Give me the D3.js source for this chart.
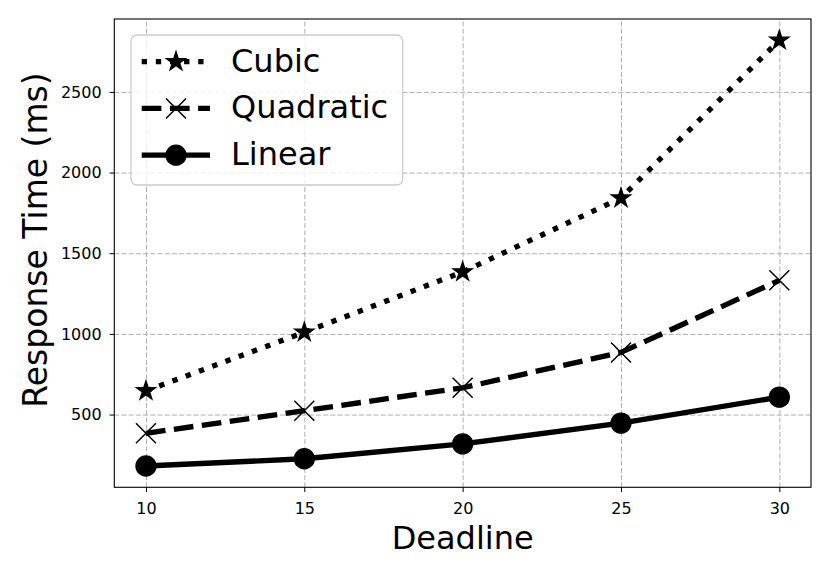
<!DOCTYPE html>
<html>
<head>
<meta charset="utf-8">
<script src="https://cdn.jsdelivr.net/npm/d3@7"></script>
<style>
  body { margin: 0; background: #fff; }
  svg { display: block; font-family: "DejaVu Sans", sans-serif; }
  .axis path, .axis line { stroke: #000; }
  .axis text { fill: #000; }
  .grid line { stroke: #b0b0b0; stroke-width: 1; stroke-dasharray: 5 2.2; }
  .grid path { display: none; }
</style>
</head>
<body>
<svg id="chart" width="830" height="575"></svg>
<script>
// Data
const deadlines = [10, 15, 20, 25, 30];
const cubicTimes = [647, 1010, 1384, 1842, 2820];
const quadraticTimes = [384, 524, 666, 885, 1332];
const linearTimes = [181, 226, 318, 447, 608];
const seriesNames = ["Cubic", "Quadratic", "Linear"];
const xTicks = [10, 15, 20, 25, 30];
const yTicks = [500, 1000, 1500, 2000, 2500];

const series = [
  { name: seriesNames[0], values: cubicTimes, dash: "5.33 8.8", marker: "star" },
  { name: seriesNames[1], values: quadraticTimes, dash: "19.7 8.5", marker: "x" },
  { name: seriesNames[2], values: linearTimes, dash: null, marker: "circle" },
];

const layout = { left: 114.3, right: 811, top: 19, bottom: 487.3 };
const LINE_WIDTH = 5.33;
const MARKER_SIZE = 20;
const FONT = "DejaVu Sans";

const svg = d3.select("#chart");

// matplotlib style 5% margins on both axes
function padded(extent) {
  const r = extent[1] - extent[0];
  return [extent[0] - 0.05 * r, extent[1] + 0.05 * r];
}

const x = d3.scaleLinear()
  .domain(padded(d3.extent(deadlines)))
  .range([layout.left, layout.right]);

const allValues = series.flatMap((s) => s.values);
const y = d3.scaleLinear()
  .domain(padded(d3.extent(allValues)))
  .range([layout.bottom, layout.top]);

const innerW = layout.right - layout.left;
const innerH = layout.bottom - layout.top;

// Grid
svg.append("g")
  .attr("class", "grid")
  .attr("transform", `translate(0,${layout.bottom})`)
  .call(d3.axisBottom(x).tickValues(xTicks).tickSize(-innerH).tickFormat(""));
svg.append("g")
  .attr("class", "grid")
  .attr("transform", `translate(${layout.left},0)`)
  .call(d3.axisLeft(y).tickValues(yTicks).tickSize(-innerW).tickFormat(""));

// Star marker, same shape as matplotlib's "*"
function starPath(r) {
  const pts = d3.range(10).map((i) => {
    const rad = i % 2 === 0 ? r : r * 0.381966;
    const a = (i * Math.PI) / 5;
    return [rad * Math.sin(a), -rad * Math.cos(a)];
  });
  return "M" + pts.join("L") + "Z";
}

function drawMarker(g, type) {
  const r = MARKER_SIZE / 2;
  if (type === "star") {
    g.append("path").attr("d", starPath(r))
      .attr("fill", "#000").attr("stroke", "#000").attr("stroke-width", 1.33);
  } else if (type === "circle") {
    g.append("circle").attr("r", r)
      .attr("fill", "#000").attr("stroke", "#000").attr("stroke-width", 1.33);
  } else {
    g.append("path").attr("d", `M${-r},${-r}L${r},${r}M${-r},${r}L${r},${-r}`)
      .attr("fill", "none").attr("stroke", "#000").attr("stroke-width", 1.5);
  }
}

const line = d3.line()
  .x((d) => x(d[0]))
  .y((d) => y(d[1]));

series.forEach((s) => {
  const pts = deadlines.map((d, i) => [d, s.values[i]]);
  svg.append("path")
    .attr("d", line(pts))
    .attr("fill", "none")
    .attr("stroke", "#000")
    .attr("stroke-width", LINE_WIDTH)
    .attr("stroke-dasharray", s.dash)
    .attr("stroke-linejoin", "round");
  pts.forEach((p) => {
    const g = svg.append("g").attr("transform", `translate(${x(p[0])},${y(p[1])})`);
    drawMarker(g, s.marker);
  });
});

// Frame
svg.append("rect")
  .attr("x", layout.left).attr("y", layout.top)
  .attr("width", innerW).attr("height", innerH)
  .attr("fill", "none").attr("stroke", "#000").attr("stroke-width", 1.1);

// Axes
const gx = svg.append("g")
  .attr("class", "axis")
  .attr("transform", `translate(0,${layout.bottom})`)
  .call(d3.axisBottom(x).tickValues(xTicks).tickSize(4.7).tickSizeOuter(0))
  .attr("font-family", FONT)
  .attr("font-size", 16);
gx.select(".domain").remove();
gx.selectAll("text").attr("y", 26.7).attr("dy", null);

const gy = svg.append("g")
  .attr("class", "axis")
  .attr("transform", `translate(${layout.left},0)`)
  .call(d3.axisLeft(y).tickValues(yTicks).tickSize(4.7).tickPadding(8)
    .tickSizeOuter(0).tickFormat(d3.format("d")))
  .attr("font-family", FONT)
  .attr("font-size", 16);
gy.select(".domain").remove();

// Axis titles
svg.append("text")
  .attr("x", (layout.left + layout.right) / 2)
  .attr("y", 548.5)
  .attr("text-anchor", "middle")
  .attr("font-size", 32)
  .text("Deadline");

svg.append("text")
  .attr("transform", "translate(46.5,240) rotate(-90)")
  .attr("text-anchor", "middle")
  .attr("font-size", 33)
  .text("Response Time (ms)");

// Legend
const legend = svg.append("g").attr("class", "legend");
legend.append("rect")
  .attr("x", 131).attr("y", 35)
  .attr("width", 271.7).attr("height", 150)
  .attr("rx", 6)
  .attr("fill", "#fff").attr("fill-opacity", 0.8)
  .attr("stroke", "#cccccc").attr("stroke-width", 1.3);

series.forEach((s, i) => {
  const baseline = 71.5 + i * 46.75;
  const cy = baseline - 9.8;
  const row = legend.append("g");
  row.append("line")
    .attr("x1", 141.7).attr("x2", 210)
    .attr("y1", cy).attr("y2", cy)
    .attr("stroke", "#000")
    .attr("stroke-width", LINE_WIDTH)
    .attr("stroke-dasharray", s.dash);
  drawMarker(row.append("g").attr("transform", `translate(176,${cy})`), s.marker);
  row.append("text")
    .attr("x", 231)
    .attr("y", baseline)
    .attr("font-size", 32)
    .text(s.name);
});
</script>
</body>
</html>
